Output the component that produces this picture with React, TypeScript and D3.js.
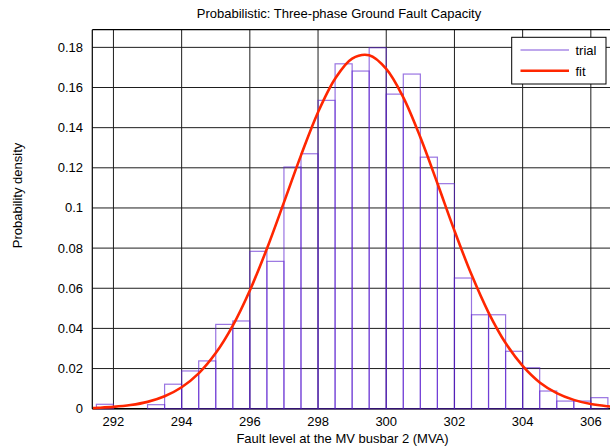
import React from "react";
import * as d3 from "d3";

// Histogram bins (left edges) and densities
const binStarts = [
  291.5, 292, 292.5, 293, 293.5, 294, 294.5, 295, 295.5, 296,
  296.5, 297, 297.5, 298, 298.5, 299, 299.5, 300, 300.5, 301,
  301.5, 302, 302.5, 303, 303.5, 304, 304.5, 305, 305.5, 306,
];
const binWidth = 0.5;
const trialDensity = [
  0.0022, 0, 0, 0.002, 0.0122, 0.0188, 0.0238, 0.042, 0.0437, 0.0784,
  0.0734, 0.1204, 0.127, 0.1536, 0.1718, 0.1682, 0.1798, 0.1567, 0.1667, 0.1253,
  0.1121, 0.0651, 0.0468, 0.0468, 0.0286, 0.0204, 0.0088, 0.0038, 0.0038, 0.0055,
];

// Fit curve points
const fitX = [
  291.4, 291.5, 292, 292.5, 293, 293.5, 294, 294.5, 295, 295.5, 296,
  296.5, 297, 297.5, 298, 298.5, 299, 299.5, 300, 300.5, 301,
  301.5, 302, 302.5, 303, 303.5, 304, 304.5, 305, 305.5, 306, 306.5, 306.8,
];
const fitY = [
  0.0003, 0.0004, 0.0009, 0.0018, 0.0034, 0.0062, 0.0107, 0.0176, 0.0277, 0.0414, 0.0589,
  0.0797, 0.1028, 0.1262, 0.1477, 0.1644, 0.1744, 0.1761, 0.1693, 0.1551, 0.1352,
  0.1123, 0.0887, 0.0668, 0.0479, 0.0327, 0.0213, 0.0131, 0.0078, 0.0044, 0.0023, 0.0012, 0.0008,
];

const xTicks = [292, 294, 296, 298, 300, 302, 304, 306];
const yTicks = [0, 0.02, 0.04, 0.06, 0.08, 0.1, 0.12, 0.14, 0.16, 0.18];

const title = "Probabilistic: Three-phase Ground Fault Capacity";
const xLabel = "Fault level at the MV busbar 2 (MVA)";
const yLabel = "Probability density";
const legendLabels = ["trial", "fit"];

const W = 610;
const H = 448;
const left = 92.3;
const right = 617.3;
const top = 29.7;
const bottom = 408.7;

export default function App() {
  const x = d3.scaleLinear().domain([291.38, 306.776]).range([left, right]);
  const y = d3.scaleLinear().domain([0, 0.1888]).range([bottom, top]);

  const line = d3
    .line<number>()
    .x((_, i) => x(fitX[i]))
    .y((d) => y(d))
    .curve(d3.curveCatmullRom);

  const font = "'Liberation Sans', Arial, Helvetica, sans-serif";
  const gridColor = "#1e1e1e";
  const fmt = (v: number) => String(+v.toFixed(2));
  const fs = 13;

  return (
    <svg
      width={W}
      height={H}
      style={{ position: "absolute", left: 0, top: 0, background: "#fff" }}
      fontFamily={font}
    >
      <rect x={0} y={0} width={W} height={H} fill="#fff" />
      {/* grid */}
      {xTicks.map((t) => (
        <line key={"gx" + t} x1={x(t)} x2={x(t)} y1={top} y2={bottom} stroke={gridColor} strokeWidth={1} />
      ))}
      {yTicks.map((t) => (
        <line key={"gy" + t} x1={left} x2={right} y1={y(t)} y2={y(t)} stroke={gridColor} strokeWidth={1} />
      ))}
      {/* frame */}
      <line x1={left} x2={left} y1={top} y2={bottom} stroke="#000" strokeWidth={1.2} />
      <line x1={left} x2={right} y1={top} y2={top} stroke="#000" strokeWidth={1.2} />
      <line x1={left} x2={right} y1={bottom} y2={bottom} stroke="#000" strokeWidth={1.4} />

      {/* histogram */}
      {binStarts.map((b, i) => (
        <rect
          key={"b" + i}
          x={x(b)}
          y={y(trialDensity[i])}
          width={x(b + binWidth) - x(b)}
          height={y(0) - y(trialDensity[i])}
          fill="none"
          stroke="#5a1fcf"
          strokeOpacity={0.62}
          strokeWidth={1.2}
        />
      ))}

      {/* fit */}
      <path d={line(fitY) || ""} fill="none" stroke="#ff2600" strokeWidth={2.6} strokeLinejoin="round" />

      {/* tick labels */}
      {xTicks.map((t) => (
        <text key={"tx" + t} x={x(t)} y={425.5} textAnchor="middle" fontSize={fs} fill="#000">
          {t}
        </text>
      ))}
      {yTicks.map((t) => (
        <text key={"ty" + t} x={83} y={y(t) + 4.5} textAnchor="end" fontSize={fs} fill="#000">
          {fmt(t)}
        </text>
      ))}

      {/* title and labels */}
      <text x={339} y={17.5} textAnchor="middle" fontSize={fs} fill="#000">
        {title}
      </text>
      <text x={342.5} y={442.5} textAnchor="middle" fontSize={fs} fill="#000">
        {xLabel}
      </text>
      <text
        transform={`translate(21.5,195.5) rotate(-90)`}
        textAnchor="middle"
        fontSize={fs}
        fill="#000"
      >
        {yLabel}
      </text>

      {/* legend */}
      <rect x={511.7} y={37.3} width={94.3} height={46.7} fill="#fff" stroke="#000" strokeWidth={1} />
      <line x1={520.5} x2={569} y1={50} y2={50} stroke="#a88ae6" strokeWidth={1.3} />
      <line x1={520.5} x2={569} y1={70.7} y2={70.7} stroke="#ff2600" strokeWidth={2.6} />
      <text x={575.5} y={55} fontSize={fs} fill="#000">
        {legendLabels[0]}
      </text>
      <text x={575.5} y={75.7} fontSize={fs} fill="#000">
        {legendLabels[1]}
      </text>
    </svg>
  );
}
